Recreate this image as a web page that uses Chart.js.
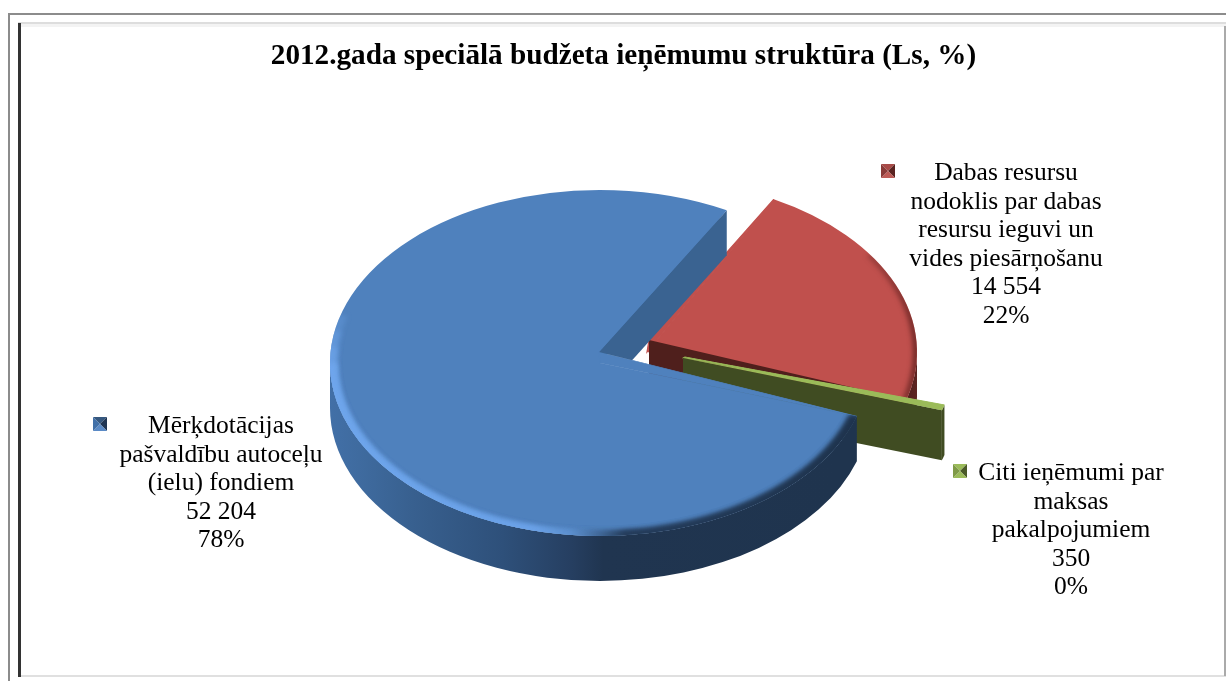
<!DOCTYPE html>
<html lang="lv">
<head>
<meta charset="utf-8">
<title>2012.gada speciālā budžeta ieņēmumu struktūra</title>
<script src="https://cdn.jsdelivr.net/npm/chart.js@4"></script>
<style>html,body{margin:0;padding:0;background:#fff}canvas{display:block}</style>
</head>
<body>
<canvas id="c" width="1226" height="681"></canvas>
<script>
const chartTitle = "2012.gada speciālā budžeta ieņēmumu struktūra (Ls, %)";
const categories = [
  ["Dabas resursu", "nodoklis par dabas", "resursu ieguvi un", "vides piesārņošanu"],
  ["Citi ieņēmumi par", "maksas", "pakalpojumiem"],
  ["Mērķdotācijas", "pašvaldību autoceļu", "(ielu) fondiem"]
];
const values = [14554, 350, 52204];
const valueLabels = ["14 554", "350", "52 204"];
const percentLabels = ["22%", "0%", "78%"];
const topColors = ["#C0504D", "#9BBB59", "#4F81BD"];
const faceColors = ["#4F1F1C", "#404C22", "#3A6391"];

/* view settings for the tilted, extruded look */
const S = 173 / 270, RADIUS = 270, CX = 600, CY = 363, ROT = 28;
const explode = [[47, -11], [85, -6], [0, 0]];
const apexShift = [[2, -12], [-2, 1], [-1, -11]];
const depth = [45, 50, 45];
const labelPos = [
  {cx: 1006, y: 180, key: [881, 164]},
  {cx: 1071, y: 480, key: [953, 464]},
  {cx: 221, y: 433, key: [93, 417]}
];
const keyShades = [
  ["#A84A47", "#5A2320", "#BD5A56", "#8A3A38"],
  ["#9BBB59", "#4A5A28", "#9BBB59", "#7F9A47"],
  ["#36587F", "#1F3553", "#5A8AC6", "#4170A8"]
];
const FONT = '"Liberation Serif", serif';

function wallGradient(c, i) {
  if (i === 2) {
    const g = c.createLinearGradient(330, 0, 860, 0);
    [[0, "#4473AD"], [0.1, "#3F6B9F"], [0.2, "#38608F"], [0.37, "#2E507A"], [0.5, "#263F61"], [0.56, "#203550"], [1, "#1F344E"]]
      .forEach(p => g.addColorStop(p[0], p[1]));
    return g;
  }
  if (i === 0) {
    const g = c.createLinearGradient(880, 0, 920, 0);
    g.addColorStop(0, "#4F1F1C"); g.addColorStop(1, "#7A302D");
    return g;
  }
  return faceColors[i];
}
function rimGradient(c, i) {
  const g = c.createLinearGradient(i === 0 ? 800 : 330, 0, i === 0 ? 920 : 860, 0);
  if (i === 2) {
    [[0, "#6FA6EC"], [0.43, "#6BA2E8"], [0.5, "#5C90CF"], [0.56, "#3D628F"], [0.6, "#243B59"], [1, "#1F344E"]]
      .forEach(p => g.addColorStop(p[0], p[1]));
  } else {
    g.addColorStop(0, "rgba(110,40,36,.1)");
    g.addColorStop(0.7, "rgba(90,30,28,.7)");
    g.addColorStop(1, "rgba(60,18,16,.95)");
  }
  return g;
}
const polygon = (c, pts) => {
  c.beginPath();
  pts.forEach((p, k) => k ? c.lineTo(p[0], p[1]) : c.moveTo(p[0], p[1]));
  c.closePath();
};

const view3d = {
  id: "view3d",
  afterDatasetsUpdate(chart) {
    const meta = chart.getDatasetMeta(0);
    const base = Chart.ArcElement.prototype.draw;
    meta.data.forEach((el, i) => {
      el.draw = function (c, area) {
        const {x, y, startAngle, endAngle, outerRadius: r} = this;
        const d = depth[i] / S;
        const A = [x + apexShift[i][0], y + apexShift[i][1] / S];
        const P0 = [x + r * Math.cos(startAngle), y + r * Math.sin(startAngle)];
        const P1 = [x + r * Math.cos(endAngle), y + r * Math.sin(endAngle)];
        c.save();
        c.translate(explode[i][0], explode[i][1] / S);

        // outer wall, only where it faces the viewer
        const a0 = Math.max(startAngle, 0), a1 = Math.min(endAngle, Math.PI);
        if (a1 > a0) {
          c.beginPath();
          c.arc(x, y, r, a0, a1);
          c.arc(x, y + d, r, a1, a0, true);
          c.closePath();
          c.fillStyle = wallGradient(c, i);
          c.fill();
        }

        // top surface, through the library's own arc
        base.call(this, c, area);

        // apex correction for the perspective of the original
        polygon(c, [A, P0, [x, y]]);
        c.fillStyle = topColors[i];
        c.strokeStyle = topColors[i];
        c.lineWidth = 1.2;
        c.fill();
        c.stroke();

        // bevel on the rim
        if (i !== 1) {
          c.save();
          c.beginPath();
          c.moveTo(x, y);
          c.arc(x, y, r, startAngle, endAngle);
          c.closePath();
          c.clip();
          c.filter = "blur(2.5px)";
          c.lineWidth = i === 2 ? 12 : 6;
          c.strokeStyle = rimGradient(c, i);
          if (i === 2) {
            // the light edge fades out towards the back of the disc
            [[1.0, 1], [1.03, 0.55], [1.06, 0.4], [1.09, 0.3]].forEach(([end, alpha]) => {
              c.globalAlpha = alpha;
              c.beginPath();
              c.arc(x, y, r - 1, startAngle, Math.PI * end);
              c.stroke();
            });
          } else {
            c.beginPath();
            c.arc(x, y, r - 1, Math.max(startAngle, -0.6), endAngle);
            c.stroke();
          }
          c.restore();
        }

        // cut face at the end of the slice
        c.save();
        if (i === 2) {
          const far = p => [A[0] + 3 * (p[0] - A[0]), A[1] + 3 * (p[1] - A[1])];
          polygon(c, [A, far(P1), far(P0)]);
          c.clip();
        }
        polygon(c, [A, P1, [P1[0], P1[1] + d], [A[0], A[1] + d]]);
        c.fillStyle = faceColors[i];
        c.fill();
        c.restore();

        if (i === 1) {
          // light edge on the thin slice
          polygon(c, [A, P0, P1]);
          c.fillStyle = topColors[1];
          c.fill();
        }
        c.restore();
      };
    });
  },
  beforeDatasetsDraw(chart) {
    const el = chart.getDatasetMeta(0).data[0];
    const c = chart.ctx;
    c.save();
    c.translate(CX, CY);
    c.scale(1, S);
    c.translate(-el.x, -el.y);
  },
  afterDatasetsDraw(chart) {
    chart.ctx.restore();
  }
};

const frameAndLabels = {
  id: "frameAndLabels",
  beforeDraw(chart) {
    const c = chart.ctx;
    c.save();
    c.fillStyle = "#fff";
    c.fillRect(0, 0, 1226, 681);
    c.fillStyle = "#8C8C8C";
    c.fillRect(8, 13, 1218, 2);
    c.fillRect(8, 13, 2, 668);
    c.fillStyle = "#DDD";
    c.fillRect(18, 22, 1208, 2);
    c.fillStyle = "#F3F3F3";
    c.fillRect(18, 24, 1208, 3);
    c.fillStyle = "#E0E0E0";
    c.fillRect(18, 675, 1208, 2);
    c.fillStyle = "#333";
    c.fillRect(18, 23, 3, 654);
    c.fillStyle = "#AAA";
    c.fillRect(1224, 26, 2, 650);
    c.restore();
  },
  afterDraw(chart) {
    const c = chart.ctx;
    c.save();
    c.font = "25.5px " + FONT;
    c.textAlign = "center";
    c.textBaseline = "alphabetic";
    categories.forEach((lines, i) => {
      const p = labelPos[i];
      const all = lines.concat([valueLabels[i], percentLabels[i]]);
      c.fillStyle = "#000";
      all.forEach((t, k) => c.fillText(t, p.cx, p.y + k * 28.6));
      const [kx, ky] = p.key, w = 14, m = [kx + w / 2, ky + w / 2];
      const corners = [[kx, ky], [kx + w, ky], [kx + w, ky + w], [kx, ky + w]];
      [0, 1, 2, 3].forEach(n => {
        polygon(c, [corners[n], corners[(n + 1) % 4], m]);
        c.fillStyle = keyShades[i][n];
        c.fill();
      });
    });
    c.restore();
  }
};

new Chart(document.getElementById("c"), {
  type: "pie",
  data: {
    labels: categories.map(l => l.join(" ")),
    datasets: [{
      data: values,
      backgroundColor: topColors,
      borderWidth: 0,
      clip: false
    }]
  },
  options: {
    responsive: false,
    animation: false,
    events: [],
    rotation: ROT,
    radius: RADIUS,
    layout: {padding: {left: 21}},
    plugins: {
      legend: {display: false},
      tooltip: {enabled: false},
      title: {
        display: true,
        text: chartTitle,
        color: "#000",
        font: {family: FONT, size: 29.2, weight: "bold"},
        padding: {top: 39, bottom: 20}
      }
    }
  },
  plugins: [frameAndLabels, view3d]
});
</script>
</body>
</html>
